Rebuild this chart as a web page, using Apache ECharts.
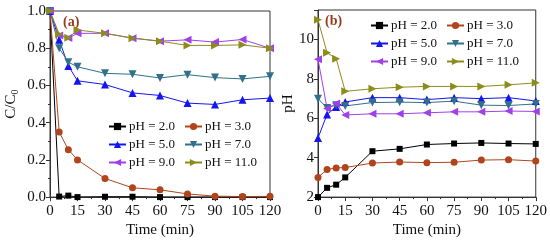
<!DOCTYPE html>
<html lang="en">

<head>
    <meta charset="UTF-8">
    <script src="https://cdn.jsdelivr.net/npm/echarts@6/dist/echarts.min.js"></script>
    <title>pH effect</title>
    <style>
        body { margin: 0; background: #fff; }
        #myChart { width: 550px; height: 243px; }
    </style>
</head>

<body>
    <div id="myChart"></div>
    <script>
        // sampling times (min)
        var time = [0, 5, 10, 15, 30, 45, 60, 75, 90, 105, 120];
        var names = ['pH = 2.0', 'pH = 3.0', 'pH = 5.0', 'pH = 7.0', 'pH = 9.0', 'pH = 11.0'];

        // (a) C/C0
        var ratio2 = [1.0, 0.003, 0.008, 0.0, 0.002, 0.002, 0.0, 0.0, 0.0, 0.0, 0.0];
        var ratio3 = [1.0, 0.35, 0.255, 0.20, 0.10, 0.05, 0.039, 0.017, 0.005, 0.003, 0.004];
        var ratio5 = [1.0, 0.845, 0.705, 0.625, 0.605, 0.56, 0.546, 0.505, 0.498, 0.523, 0.532];
        var ratio7 = [1.0, 0.80, 0.725, 0.70, 0.665, 0.66, 0.64, 0.658, 0.642, 0.635, 0.649];
        var ratio9 = [1.0, 0.868, 0.855, 0.88, 0.88, 0.854, 0.838, 0.845, 0.833, 0.847, 0.80];
        var ratio11 = [1.0, 0.875, 0.856, 0.898, 0.88, 0.854, 0.838, 0.815, 0.815, 0.818, 0.80];

        // (b) solution pH
        var ph2 = [2.0, 2.47, 2.63, 3.0, 4.33, 4.45, 4.67, 4.72, 4.75, 4.72, 4.7];
        var ph3 = [3.0, 3.4, 3.48, 3.5, 3.73, 3.78, 3.75, 3.77, 3.88, 3.9, 3.83];
        var ph5 = [5.0, 6.2, 6.58, 6.83, 7.05, 7.05, 6.95, 7.05, 7.0, 7.05, 6.88];
        var ph7 = [7.0, 6.53, 6.67, 6.63, 6.8, 6.82, 6.8, 6.87, 6.67, 6.65, 6.73];
        var ph9 = [9.0, 6.5, 6.75, 6.17, 6.23, 6.23, 6.28, 6.33, 6.33, 6.37, 6.35];
        var ph11 = [11.0, 9.33, 9.03, 7.37, 7.5, 7.58, 7.62, 7.62, 7.62, 7.7, 7.8];

        var font = "'Liberation Serif', 'Times New Roman', serif";
        var styles = [
            { color: '#000000', symbol: 'rect', size: 6, rotate: 0 },
            { color: '#b0441c', symbol: 'circle', size: 7, rotate: 0 },
            { color: '#1515ee', symbol: 'triangle', size: 8, rotate: 0 },
            { color: '#32708a', symbol: 'triangle', size: 8, rotate: 180 },
            { color: '#a040e8', symbol: 'triangle', size: 8, rotate: 90 },
            { color: '#8c8c1c', symbol: 'triangle', size: 8, rotate: -90 }
        ];

        function pairs(vals) {
            return time.map((t, i) => [t, vals[i]]);
        }

        function makeSeries(list, idx) {
            return list.map((vals, i) => ({
                name: names[i],
                type: 'line',
                xAxisIndex: idx,
                yAxisIndex: idx,
                data: pairs(vals),
                symbol: styles[i].symbol,
                symbolSize: styles[i].size,
                symbolRotate: styles[i].rotate,
                showAllSymbol: true,
                animation: false,
                itemStyle: { color: styles[i].color },
                lineStyle: { color: styles[i].color, width: 1 }
            }));
        }

        function xAxis(idx) {
            return {
                type: 'value',
                gridIndex: idx,
                min: 0,
                max: 120,
                interval: 15,
                name: 'Time (min)',
                nameLocation: 'middle',
                nameGap: 24,
                nameTextStyle: { fontFamily: font, fontSize: 15, color: '#111' },
                axisLine: { lineStyle: { color: '#333' } },
                axisTick: { inside: false, length: 4, lineStyle: { color: '#333' } },
                minorTick: { show: true, splitNumber: 2, length: 2, lineStyle: { color: '#333' } },
                splitLine: { show: false },
                axisLabel: { fontFamily: font, fontSize: 15, color: '#111', margin: 6 }
            };
        }

        var dom = document.getElementById('myChart');
        var myChart = echarts.init(dom);

        var legendBase = {
            data: names,
            orient: 'horizontal',
            padding: 0,
            itemWidth: 17,
            itemHeight: 9,
            itemGap: 5,
            textStyle: { fontFamily: font, fontSize: 13, color: '#111', lineHeight: 13, width: 50, padding: [0, 0, 0, -2] }
        };

        var option = {
            animation: false,
            grid: [
                { left: 50, top: 11, width: 220, height: 188, show: true, borderColor: '#333', borderWidth: 1, backgroundColor: 'transparent' },
                { left: 318, top: 10, width: 219, height: 190, show: true, borderColor: '#333', borderWidth: 1, backgroundColor: 'transparent' }
            ],
            legend: [
                Object.assign({}, legendBase, { left: 108, top: 120, width: 160 }),
                Object.assign({}, legendBase, { left: 370, top: 19, width: 165 })
            ],
            xAxis: [xAxis(0), xAxis(1)],
            yAxis: [{
                type: 'value',
                gridIndex: 0,
                min: 0,
                max: 1.0,
                interval: 0.2,
                name: '{a|C/C}{s|0}',
                nameLocation: 'middle',
                nameGap: 30,
                nameTextStyle: {
                    rich: {
                        a: { fontFamily: font, fontSize: 15, color: '#111' },
                        s: { fontFamily: font, fontSize: 10, color: '#111', verticalAlign: 'bottom', padding: [8, 0, 0, 0] }
                    }
                },
                axisLine: { show: true, lineStyle: { color: '#333' } },
                axisTick: { show: true, length: 4, lineStyle: { color: '#333' } },
                minorTick: { show: true, splitNumber: 2, length: 2, lineStyle: { color: '#333' } },
                splitLine: { show: false },
                axisLabel: {
                    fontFamily: font, fontSize: 15, color: '#111', margin: 4,
                    formatter: v => v.toFixed(1)
                }
            }, {
                type: 'value',
                gridIndex: 1,
                min: 2,
                max: 11.5,
                interval: 2,
                name: 'pH',
                nameLocation: 'middle',
                nameGap: 22,
                nameTextStyle: { fontFamily: font, fontSize: 15, color: '#111' },
                axisLine: { show: true, lineStyle: { color: '#333' } },
                axisTick: { show: true, length: 4, lineStyle: { color: '#333' } },
                minorTick: { show: true, splitNumber: 2, length: 2, lineStyle: { color: '#333' } },
                splitLine: { show: false },
                axisLabel: {
                    fontFamily: font, fontSize: 15, color: '#111', margin: 4,
                    formatter: v => (v % 2 === 0 ? String(v) : '')
                }
            }],
            graphic: [{
                type: 'text', left: 63, top: 15,
                style: { text: '(a)', fontFamily: font, fontSize: 14, fontWeight: 'bold', fill: '#9a3a1c' }
            }, {
                type: 'text', left: 325, top: 14,
                style: { text: '(b)', fontFamily: font, fontSize: 14, fontWeight: 'bold', fill: '#9a3a1c' }
            }],
            series: makeSeries([ratio2, ratio3, ratio5, ratio7, ratio9, ratio11], 0)
                .concat(makeSeries([ph2, ph3, ph5, ph7, ph9, ph11], 1))
        };
        myChart.setOption(option);
    </script>
</body>

</html>
